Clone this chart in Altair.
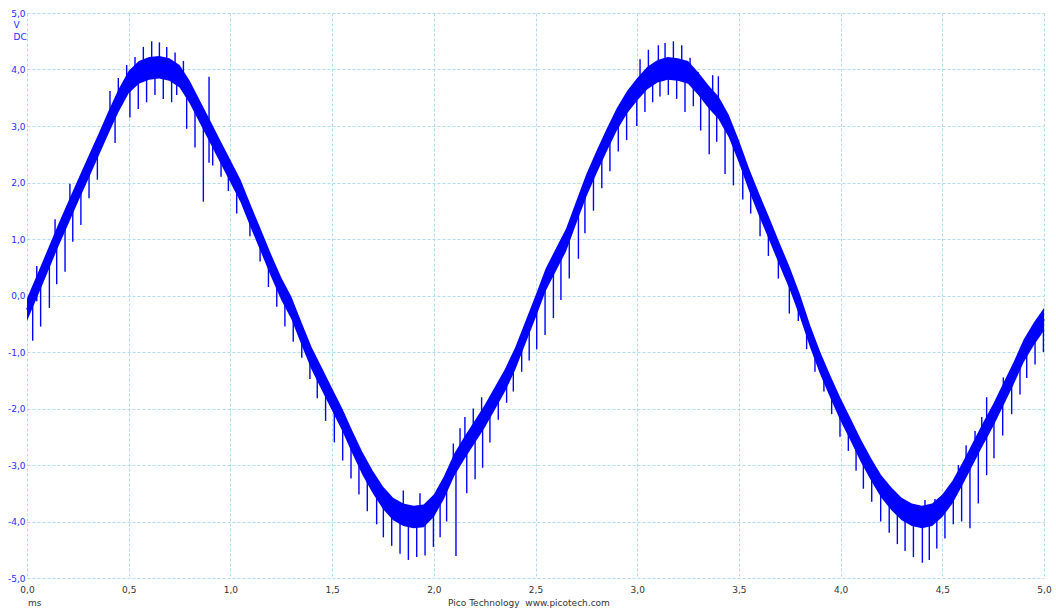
import altair as alt
import pandas as pd

# Oscilloscope capture: time axis (ms) and the smoothed centre of the trace (V)
time_ms = [
    0.00, 0.05, 0.10, 0.15, 0.20, 0.25, 0.30, 0.35, 0.40, 0.45,
    0.50, 0.55, 0.60, 0.65, 0.70, 0.75, 0.80, 0.85, 0.90, 0.95,
    1.00, 1.05, 1.10, 1.15, 1.20, 1.25, 1.30, 1.35, 1.40, 1.45,
    1.50, 1.55, 1.60, 1.65, 1.70, 1.75, 1.80, 1.85, 1.90, 1.95,
    2.00, 2.05, 2.10, 2.15, 2.20, 2.25, 2.30, 2.35, 2.40, 2.45,
    2.50, 2.55, 2.60, 2.65, 2.70, 2.75, 2.80, 2.85, 2.90, 2.95,
    3.00, 3.05, 3.10, 3.15, 3.20, 3.25, 3.30, 3.35, 3.40, 3.45,
    3.50, 3.55, 3.60, 3.65, 3.70, 3.75, 3.80, 3.85, 3.90, 3.95,
    4.00, 4.05, 4.10, 4.15, 4.20, 4.25, 4.30, 4.35, 4.40, 4.45,
    4.50, 4.55, 4.60, 4.65, 4.70, 4.75, 4.80, 4.85, 4.90, 4.95,
    5.00,
]
volts = [
    -0.25, 0.17, 0.60, 1.03, 1.44, 1.85, 2.25, 2.65, 3.06, 3.45,
    3.78, 3.95, 4.02, 4.04, 4.00, 3.88, 3.60, 3.25, 2.90, 2.55,
    2.20, 1.85, 1.40, 0.97, 0.53, 0.12, -0.22, -0.68, -1.12, -1.48,
    -1.84, -2.20, -2.60, -2.98, -3.30, -3.58, -3.78, -3.88, -3.92, -3.90,
    -3.72, -3.40, -3.00, -2.70, -2.42, -2.14, -1.82, -1.50, -1.12, -0.66,
    -0.20, 0.28, 0.63, 0.98, 1.47, 1.95, 2.36, 2.75, 3.12, 3.42,
    3.65, 3.85, 3.97, 4.02, 4.00, 3.95, 3.75, 3.52, 3.32, 3.00,
    2.55, 2.05, 1.60, 1.17, 0.73, 0.30, -0.18, -0.72, -1.20, -1.62,
    -2.02, -2.38, -2.75, -3.08, -3.38, -3.60, -3.78, -3.88, -3.92, -3.88,
    -3.72, -3.48, -3.15, -2.80, -2.45, -2.12, -1.75, -1.38, -0.98, -0.68,
    -0.42,
]

# Noise spikes on the trace: time (ms), lower end (V), upper end (V)
spike_t = [
    0.028, 0.048, 0.067, 0.110, 0.138, 0.146, 0.187, 0.211, 0.225, 0.265,
    0.305, 0.346, 0.408, 0.433, 0.449, 0.490, 0.506, 0.531, 0.547, 0.572,
    0.588, 0.613, 0.629, 0.651, 0.670, 0.687, 0.711, 0.728, 0.736, 0.769,
    0.785, 0.826, 0.867, 0.895, 0.913, 0.954, 0.990, 1.031, 1.096, 1.146,
    1.187, 1.228, 1.268,
    1.309, 1.351, 1.391, 1.427, 1.468, 1.511, 1.552, 1.593, 1.632, 1.673,
    1.719, 1.752, 1.793, 1.834, 1.850, 1.875, 1.916, 1.932, 1.957, 1.998,
    2.031, 2.063, 2.096, 2.109, 2.129, 2.153, 2.162, 2.194, 2.203, 2.235,
    2.240, 2.276, 2.317, 2.358, 2.391, 2.432, 2.469, 2.506,
    2.547, 2.588, 2.625, 2.666, 2.711, 2.743, 2.785, 2.826, 2.866, 2.907,
    2.948, 2.998, 3.014, 3.038, 3.055, 3.076, 3.104, 3.112, 3.137, 3.153,
    3.178, 3.194, 3.219, 3.235, 3.260, 3.276, 3.300, 3.312, 3.354, 3.371,
    3.391, 3.399, 3.432, 3.473, 3.519, 3.558, 3.604, 3.645, 3.694, 3.748,
    3.792,
    3.833, 3.874, 3.918, 3.956, 3.997, 4.038, 4.076, 4.112, 4.153, 4.197,
    4.239, 4.279, 4.317, 4.358, 4.402, 4.415, 4.436, 4.464, 4.473, 4.513,
    4.554, 4.579, 4.595, 4.617, 4.636, 4.661, 4.677, 4.694, 4.718, 4.754,
    4.797, 4.800, 4.841, 4.882, 4.915, 4.956, 4.997,
]
spike_lo = [
    -0.80, -0.10, -0.55, -0.22, 0.90, 0.20, 0.42, 1.53, 0.95, 1.25,
    1.72, 2.05, 3.12, 2.70, 3.44, 3.71, 3.15, 3.89, 3.30, 3.98,
    3.42, 4.02, 3.55, 4.04, 3.48, 4.00, 3.42, 3.93, 3.55, 3.78,
    2.95, 2.62, 1.66, 2.35, 2.30, 2.10, 1.85, 1.45, 1.05, 0.60,
    0.15, -0.20, -0.55,
    -0.82, -1.10, -1.48, -1.82, -2.22, -2.60, -2.92, -3.24, -3.52, -3.82,
    -4.05, -4.28, -4.43, -4.57, -3.88, -4.68, -4.63, -3.91, -4.60, -4.45,
    -4.28, -4.00, -3.03, -4.61, -2.83, -2.68, -3.50, -2.45, -3.25, -2.22,
    -3.05, -2.60, -2.20, -1.90, -1.70, -1.35, -1.15, -0.95,
    -0.70, -0.40, -0.08, 0.30, 0.65, 1.10, 1.50, 1.90, 2.20, 2.55,
    2.75, 3.00, 3.70, 3.25, 3.87, 3.42, 3.97, 3.52, 4.01, 3.55,
    4.01, 3.48, 3.98, 3.25, 3.90, 3.35, 3.75, 2.92, 2.50, 3.40,
    2.72, 3.28, 2.15, 1.95, 1.70, 1.45, 1.05, 0.70, 0.30, -0.32,
    -0.45,
    -0.95, -1.35, -1.70, -2.10, -2.50, -2.75, -3.10, -3.42, -3.65, -4.00,
    -4.20, -4.40, -4.52, -4.63, -4.73, -3.91, -4.68, -3.84, -4.48, -4.30,
    -4.05, -3.30, -4.00, -3.04, -4.12, -2.72, -3.68, -2.50, -3.18, -2.88,
    -2.48, -1.75, -2.10, -1.75, -1.46, -1.22, -1.00,
]
spike_hi = [
    0.00, 0.52, 0.30, 0.69, 1.35, 1.00, 1.33, 1.98, 1.65, 1.97,
    2.29, 2.62, 3.62, 3.32, 3.85, 4.08, 3.80, 4.22, 3.94, 4.40,
    4.00, 4.50, 4.03, 4.48, 4.02, 4.40, 3.98, 4.30, 3.92, 4.15,
    3.70, 3.42, 3.13, 3.87, 2.82, 2.52, 2.27, 1.98, 1.45, 1.00,
    0.65, 0.30, 0.00,
    -0.30, -0.69, -1.04, -1.32, -1.61, -1.92, -2.22, -2.54, -2.85, -3.13,
    -3.41, -3.59, -3.75, -3.85, -3.45, -3.90, -3.92, -3.50, -3.88, -3.73,
    -3.52, -3.30, -2.62, -2.95, -2.35, -2.15, -2.63, -2.00, -2.40, -1.80,
    -2.20, -1.97, -1.71, -1.44, -1.21, -0.90, -0.45, -0.13,
    0.25, 0.55, 0.81, 1.14, 1.58, 1.88, 2.24, 2.56, 2.87, 3.16,
    3.41, 3.64, 4.18, 3.80, 4.35, 3.91, 4.43, 3.98, 4.47, 4.02,
    4.50, 4.00, 4.43, 3.96, 4.21, 3.88, 3.95, 3.69, 3.48, 3.90,
    3.34, 3.88, 3.14, 2.82, 2.36, 1.98, 1.57, 1.21, 0.78, 0.32,
    -0.10,
    -0.54, -0.95, -1.35, -1.67, -1.99, -2.29, -2.57, -2.83, -3.10, -3.36,
    -3.55, -3.70, -3.82, -3.89, -3.92, -3.62, -3.89, -3.60, -3.81, -3.66,
    -3.46, -3.00, -3.18, -2.65, -2.90, -2.40, -2.61, -2.15, -1.80, -2.09,
    -1.77, -1.45, -1.45, -1.12, -0.89, -0.65, -0.43,
]

x_ticks = [0.0, 0.5, 1.0, 1.5, 2.0, 2.5, 3.0, 3.5, 4.0, 4.5, 5.0]
y_ticks = [-5, -4, -3, -2, -1, 0, 1, 2, 3, 4, 5]

TRACE = "#0000ff"
GRID = "#b0dcec"
FONT = "DejaVu Sans"

trace_df = pd.DataFrame({"t": time_ms, "v": volts})
spike_df = pd.DataFrame({"t": spike_t, "lo": spike_lo, "hi": spike_hi})

comma_label = "replace(format(datum.value, '.1f'), '.', ',')"
comma_label = f"replace({comma_label}, '\u2212', '-')"

x_scale = alt.Scale(domain=[0, 5], nice=False, zero=False)
y_scale = alt.Scale(domain=[-5, 5], nice=False, zero=False)

x_axis = alt.Axis(
    values=x_ticks, labelExpr=comma_label, title=None, grid=True,
    gridColor=GRID, gridDash=[3, 2], gridWidth=1, domain=False, ticks=False,
    labelColor="#333333", labelFont=FONT, labelFontSize=9, labelPadding=7,
    labelFlush=False,
)
y_axis = alt.Axis(
    values=y_ticks, labelExpr=comma_label, title=None, grid=True,
    gridColor=GRID, gridDash=[3, 2], gridWidth=1, domain=False, ticks=False,
    labelColor="#2a2aff", labelFont=FONT, labelFontSize=9, labelPadding=2,
    labelFlush=False,
)

# solid core of the noisy trace
band = (
    alt.Chart(trace_df)
    .transform_calculate(lo="datum.v - 0.2", hi="datum.v + 0.2")
    .mark_area(color=TRACE, opacity=1, interpolate="linear")
    .encode(
        x=alt.X("t:Q", scale=x_scale, axis=x_axis),
        y=alt.Y("lo:Q", scale=y_scale, axis=y_axis),
        y2="hi:Q",
    )
)

core = (
    alt.Chart(trace_df)
    .mark_line(color=TRACE, strokeWidth=2)
    .encode(x=alt.X("t:Q", scale=x_scale), y=alt.Y("v:Q", scale=y_scale))
)

spikes = (
    alt.Chart(spike_df)
    .mark_rule(color=TRACE, strokeWidth=1.4)
    .encode(
        x=alt.X("t:Q", scale=x_scale),
        y=alt.Y("lo:Q", scale=y_scale),
        y2="hi:Q",
    )
)

labels_df = pd.DataFrame(
    {
        "text": ["V", "DC", "ms", "Pico Technology\u00a0\u00a0www.picotech.com"],
        "px": [-13.5, -13.5, 1, 502],
        "py": [12, 24, 590, 590],
        "align": ["left", "left", "left", "center"],
        "color": ["#2a2aff", "#2a2aff", "#333333", "#333333"],
    }
)


def text_layer(i):
    row = labels_df.iloc[i]
    return (
        alt.Chart(alt.Data(values=[{"text": row["text"]}]))
        .mark_text(
            align=row["align"], baseline="middle", font=FONT, fontSize=9,
            color=row["color"],
        )
        .encode(
            x=alt.value(float(row["px"])),
            y=alt.value(float(row["py"])),
            text="text:N",
        )
    )


texts = [text_layer(i) for i in range(len(labels_df))]

chart = (
    alt.layer(band, core, spikes, *texts)
    .properties(
        width=1017,
        height=565,
        autosize=alt.AutoSizeParams(type="none"),
        padding={"left": 27, "top": 13, "right": 12, "bottom": 32},
        background="white",
    )
    .configure_view(stroke=None)
)

chart.save("out.html", embed_options={"renderer": "svg", "actions": False})
